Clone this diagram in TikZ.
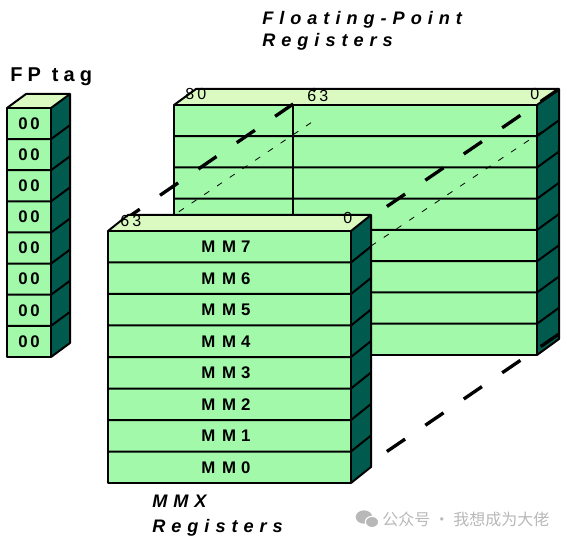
\documentclass[tikz,border=0pt]{standalone}
\usepackage{fontspec}
\setmainfont{Liberation Sans}
\newfontfamily\cjkfont{Noto Sans CJK SC}
\definecolor{frontgreen}{HTML}{A2F9AA}
\definecolor{topgreen}{HTML}{DAFAC2}
\definecolor{sideteal}{HTML}{005A4E}
\definecolor{wmgray}{HTML}{B8B8B8}
\tikzset{
  edge/.style={line width=1.5pt, line join=round},
  bigdash/.style={line width=2.5pt, dash pattern=on 16.5pt off 18.4pt},
  thindash/.style={line width=0.6pt, dash pattern=on 4.5pt off 7pt},
  reglabel/.style={font=\fontsize{12.6}{14}\selectfont\bfseries, inner sep=0pt},
  tagtext/.style={font=\fontsize{12.6}{14}\selectfont\bfseries\addfontfeature{LetterSpace=16}, inner sep=0pt},
  titletext/.style={font=\fontsize{13.6}{16}\selectfont\bfseries\itshape\addfontfeature{LetterSpace=33}, inner sep=0pt, anchor=base west},
  fptagtext/.style={font=\fontsize{15}{17}\selectfont\bfseries\addfontfeature{LetterSpace=26}, inner sep=0pt, anchor=base west},
  bitlabel/.style={font=\fontsize{12}{14}\selectfont\addfontfeature{LetterSpace=20}, inner sep=0pt, anchor=base west},
}
% x0 y0 x1 y1 dx dy : front face (x0,y0)-(x1,y1), depth (dx,dy), 8 rows
\newcommand{\regstack}[6]{%
  \fill[frontgreen] (#1,#2) rectangle (#3,#4);
  \fill[sideteal] (#3,#2) -- ++(#5,#6) -- ++(0,#4-#2) -- (#3,#4) -- cycle;
  \fill[topgreen] (#1,#2) -- ++(#5,#6) -- ++(#3-#1,0) -- (#3,#2) -- cycle;
  \foreach \k in {1,...,7} {
    \draw[edge] (#1,{#2+\k*(#4-#2)/8}) -- ++(#3-#1,0) -- ++(#5,#6);
  }
  \draw[edge] (#1,#2) rectangle (#3,#4);
  \draw[edge] (#1,#2) -- ++(#5,#6) -- ++(#3-#1,0) -- (#3,#2);
  \draw[edge] (#3,#2) ++(#5,#6) -- ++(0,#4-#2) -- (#3,#4);
}
\begin{document}
\begin{tikzpicture}[x=0.75pt,y={(0pt,-0.75pt)}]
\useasboundingbox (0,0) rectangle (567,541);

% FP tag stack
\regstack{7}{108}{51}{357}{19}{-14}
\foreach \k in {0,...,7} {
  \node[tagtext] (tag\k) at (29,{108+(\k+0.5)*249/8}) {00};
}
\node[fptagtext] (fptag) at (10,82) {FP tag};

% Floating-point register stack
\regstack{174}{105}{537}{355}{22}{-16}
\coordinate (fp63top) at (293,105);
\coordinate (fp63bot) at (293,231);
\draw[edge] (fp63top) -- (fp63bot);

% projection lines
\coordinate (mmxTLb) at (128,246);
\coordinate (fpTLb) at (315,120);
\coordinate (mmxTRb) at (371,246);
\coordinate (fpTRb) at (559,120);
\draw[thindash] (mmxTLb) -- (fpTLb);
\draw[thindash] (mmxTRb) -- (fpTRb);

\coordinate (mmxTL) at (108,231);
\coordinate (fpTL) at (315,89);
\coordinate (mmxTR) at (351,231);
\coordinate (fpTR) at (559,89);
\coordinate (mmxBR) at (351,476);
\coordinate (fpBR) at (559,334);
\draw[bigdash, dash phase=22.5pt] (mmxTL) -- (fpTL);
\draw[bigdash, dash phase=2.3pt] (mmxTR) -- (fpTR);
\draw[bigdash, dash phase=2.3pt] (mmxBR) -- (fpBR);

% MMX register stack
\regstack{108}{231}{351}{483}{20}{-16}
\foreach \k/\name in {0/7,1/6,2/5,3/4,4/3,5/2,6/1,7/0} {
  \node[reglabel] (mm\name) at (226,{231+(\k+0.5)*252/8}) {M\hspace{0.4em}M\hspace{0.3em}\name};
}

% bit labels
\node[bitlabel] (fp80) at (185,100) {80};
\node[bitlabel] (fp63) at (307,102) {63};
\node[bitlabel] (fp0) at (530,100) {0};
\node[bitlabel] (mmx63) at (120,227) {63};
\node[bitlabel] (mmx0) at (343,224) {0};

% titles
\node[titletext] (fptitle1) at (262,25) {Floating-Point};
\node[titletext] (fptitle2) at (262,47) {Registers};
\node[titletext] (mmxtitle1) at (152,507) {MMX};
\node[titletext] (mmxtitle2) at (152,532) {Registers};

% watermark
\fill[wmgray] (364,517) ellipse (6.2pt and 5pt);
\filldraw[wmgray, draw=white, line width=0.8pt] (372,522) ellipse (5pt and 4.2pt);
\node[anchor=base west, inner sep=0pt, text=wmgray, font=\cjkfont\fontsize{12}{14}\selectfont] (wm) at (382,525) {公众号 · 我想成为大佬};
\end{tikzpicture}
\end{document}
